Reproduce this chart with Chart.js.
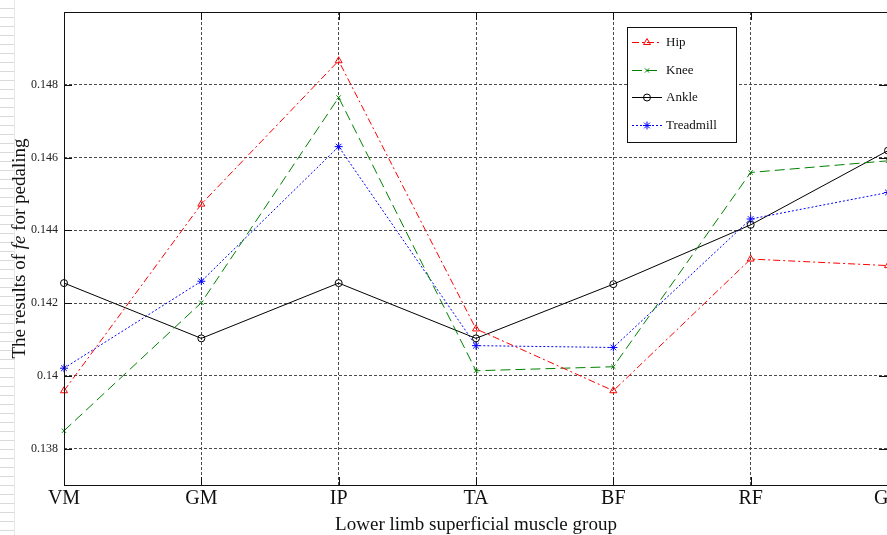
<!DOCTYPE html>
<html>
<head>
<meta charset="utf-8">
<title>fe results for pedaling</title>
<script src="https://cdn.jsdelivr.net/npm/chart.js@4.4.1/dist/chart.umd.min.js"></script>
<style>
  html, body { margin: 0; padding: 0; background: #fff; overflow: hidden; }
  #wrap { position: relative; width: 887px; height: 535px; overflow: hidden; }
  #ruler {
    position: absolute; left: 0; top: 0; width: 14px; height: 535px;
    background: repeating-linear-gradient(to bottom, transparent 0 8px, #d9d9d9 8px 9px);
    border-right: 1px solid #e8e8e8;
  }
  canvas { position: absolute; left: 0; top: 0; }
</style>
</head>
<body>
<div id="wrap">
  <div id="ruler"></div>
  <canvas id="feChart" width="900" height="535"></canvas>
</div>
<script>
// muscle groups and fe results per condition
const muscles = ['VM', 'GM', 'IP', 'TA', 'BF', 'RF', 'GC'];
const hip = [0.13959, 0.14472, 0.14866, 0.14129, 0.13959, 0.14321, 0.14303];
const knee = [0.13849, 0.14201, 0.14765, 0.14014, 0.14025, 0.14559, 0.14591];
const ankle = [0.14255, 0.14103, 0.14255, 0.14103, 0.14252, 0.14415, 0.14619];
const treadmill = [0.14021, 0.14260, 0.14630, 0.14083, 0.14078, 0.14431, 0.14504];
const yTicks = [0.138, 0.14, 0.142, 0.144, 0.146, 0.148];

const SERIF = '"Liberation Serif", "Times New Roman", serif';

function series(label, data, color, dash, pointStyle, radius) {
    return {
        label: label,
        data: data,
        borderColor: color,
        backgroundColor: 'rgba(0,0,0,0)',
        borderWidth: 1,
        borderDash: dash,
        pointStyle: pointStyle,
        pointRadius: radius,
        pointBorderColor: color,
        pointBackgroundColor: 'rgba(0,0,0,0)',
        pointBorderWidth: 1,
        tension: 0,
        clip: false
    };
}

// box, inner tick marks, legend and axis titles
const frame = {
    id: 'frame',
    afterDatasetsDraw(chart) {
        const ctx = chart.ctx;
        const a = chart.chartArea;
        const ys = chart.scales.y, xs = chart.scales.x;
        ctx.save();
        ctx.strokeStyle = '#111';
        ctx.lineWidth = 1;
        ctx.setLineDash([]);
        ctx.strokeRect(a.left + 0.5, a.top + 0.5, a.right - a.left, a.bottom - a.top);
        ctx.beginPath();
        yTicks.forEach(v => {
            const y = Math.round(ys.getPixelForValue(v)) + 0.5;
            ctx.moveTo(a.left, y); ctx.lineTo(a.left + 8, y);
            ctx.moveTo(a.right - 9, y); ctx.lineTo(a.right, y);
        });
        muscles.forEach((m, i) => {
            const x = Math.round(xs.getPixelForValue(i)) + 0.5;
            ctx.moveTo(x, a.bottom); ctx.lineTo(x, a.bottom - 8);
            ctx.moveTo(x, a.top); ctx.lineTo(x, a.top + 8);
        });
        ctx.stroke();

        // legend
        const bx = 627, by = 27, bw = 109, bh = 115;
        ctx.fillStyle = '#fff';
        ctx.fillRect(bx, by, bw, bh);
        ctx.strokeStyle = '#111';
        ctx.strokeRect(bx + 0.5, by + 0.5, bw, bh);
        ctx.font = '13px ' + SERIF;
        ctx.textBaseline = 'middle';
        chart.data.datasets.forEach((ds, i) => {
            const y = Math.round(42 + i * 27.7) + 0.5;
            ctx.strokeStyle = ds.borderColor;
            ctx.setLineDash(ds.borderDash || []);
            ctx.beginPath();
            ctx.moveTo(632, y); ctx.lineTo(662, y);
            ctx.stroke();
            ctx.setLineDash([]);
            ctx.fillStyle = 'rgba(0,0,0,0)';
            Chart.helpers.drawPoint(ctx, {
                pointStyle: ds.pointStyle, radius: ds.pointRadius, borderWidth: 1, rotation: 0
            }, 647, y);
            ctx.fillStyle = '#111';
            ctx.fillText(ds.label, 666, y);
        });

        // axis titles
        ctx.fillStyle = '#111';
        ctx.font = '19px ' + SERIF;
        ctx.textAlign = 'center';
        ctx.textBaseline = 'alphabetic';
        ctx.fillText('Lower limb superficial muscle group', (a.left + a.right) / 2, 530);

        const parts = [
            ['The results of ', '19px ' + SERIF],
            ['fe', 'italic 19px ' + SERIF],
            [' for pedaling', '19px ' + SERIF]
        ];
        let total = 0;
        parts.forEach(p => { ctx.font = p[1]; total += ctx.measureText(p[0]).width; });
        ctx.translate(25, (a.top + a.bottom) / 2);
        ctx.rotate(-Math.PI / 2);
        ctx.textAlign = 'left';
        let x = -total / 2;
        parts.forEach(p => {
            ctx.font = p[1];
            ctx.fillText(p[0], x, 0);
            x += ctx.measureText(p[0]).width;
        });
        ctx.restore();
    }
};

new Chart(document.getElementById('feChart').getContext('2d'), {
    type: 'line',
    data: {
        labels: muscles,
        datasets: [
            series('Hip', hip, '#ff0000', [7, 3, 2, 3], 'triangle', 4),
            series('Knee', knee, '#008000', [10, 5], 'crossRot', 3),
            series('Ankle', ankle, '#000000', [], 'circle', 3.5),
            series('Treadmill', treadmill, '#0000ff', [2, 2], 'star', 4)
        ]
    },
    options: {
        responsive: false,
        animation: false,
        devicePixelRatio: 1,
        layout: { padding: { left: 0, top: 12, right: 12, bottom: 0 } },
        plugins: { legend: { display: false }, tooltip: { enabled: false } },
        events: [],
        scales: {
            x: {
                type: 'category',
                offset: false,
                grid: { color: '#4a4a4a', lineWidth: 1, drawTicks: false },
                border: { display: false, dash: [3, 2] },
                ticks: {
                    color: '#111', padding: 2, maxRotation: 0, autoSkip: false,
                    font: { family: SERIF, size: 20 }
                },
                afterFit(s) { s.height = 50; s.paddingLeft = 0; s.paddingRight = 0; }
            },
            y: {
                min: 0.137,
                max: 0.150,
                grid: { color: '#4a4a4a', lineWidth: 1, drawTicks: false },
                border: { display: false, dash: [3, 2] },
                afterBuildTicks(s) { s.ticks = yTicks.map(v => ({ value: v })); },
                ticks: {
                    color: '#222', padding: 6,
                    font: { family: SERIF, size: 12 },
                    callback: v => String(+v.toFixed(3))
                },
                afterFit(s) { s.width = 64; s.paddingTop = 0; s.paddingBottom = 0; }
            }
        }
    },
    plugins: [frame]
});
</script>
</body>
</html>
